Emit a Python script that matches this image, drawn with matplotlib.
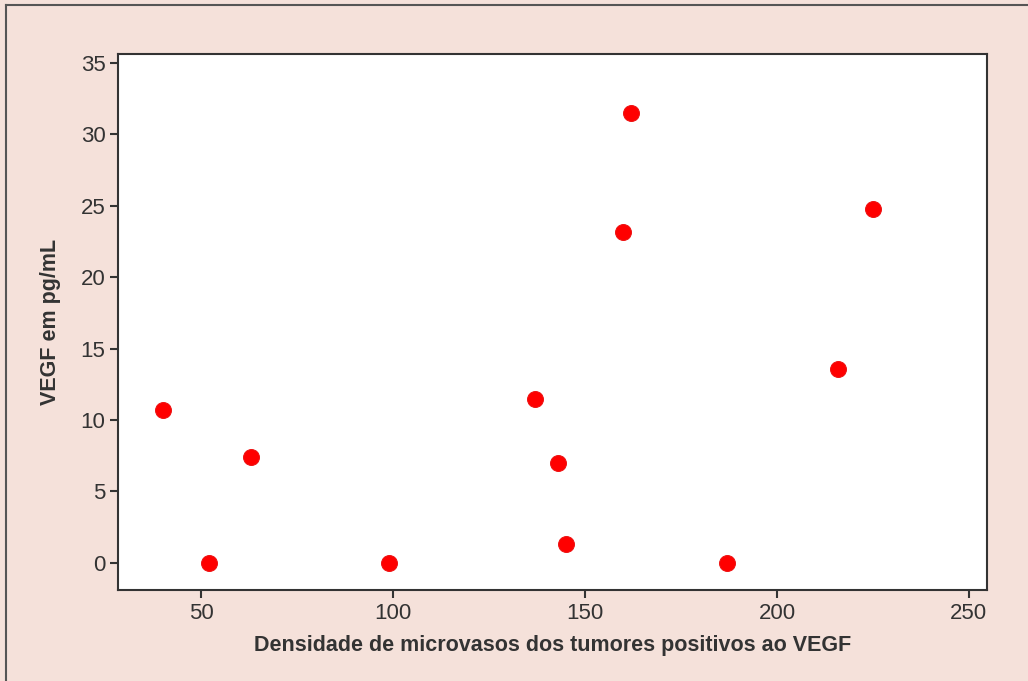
import matplotlib.pyplot as plt
from matplotlib.lines import Line2D

# microvessel density vs VEGF
densidade = [40, 52, 63, 99, 137, 143, 145, 160, 162, 187, 216, 225]
vegf = [10.7, 0, 7.4, 0, 11.5, 7.0, 1.3, 23.2, 31.5, 0, 13.6, 24.8]

x_ticks = [50, 100, 150, 200, 250]
y_ticks = [0, 5, 10, 15, 20, 25, 30, 35]

plt.rcParams['font.family'] = ['Liberation Sans', 'DejaVu Sans']

bg = '#f5e1da'
dark = '#333333'

fig = plt.figure(figsize=(10.28, 6.81), dpi=100, facecolor=bg)
ax = fig.add_axes([0.1148, 0.1336, 0.8453, 0.7871])
ax.set_facecolor('white')

ax.scatter(densidade, vegf, s=130, color='#ff0000', edgecolors='#ee1111',
           linewidths=0.8, zorder=3)

ax.set_xlim(28.4, 254.7)
ax.set_ylim(-1.9, 35.63)
ax.set_xticks(x_ticks)
ax.set_yticks(y_ticks)

ax.tick_params(axis='both', direction='out', length=6, width=1.5,
               color=dark, labelcolor=dark, labelsize=16, pad=3)
for sp in ax.spines.values():
    sp.set_color(dark)
    sp.set_linewidth(1.5)

ax.set_xlabel('Densidade de microvasos dos tumores positivos ao VEGF',
              fontsize=15.5, fontweight='bold', color=dark, labelpad=8)
ax.set_ylabel('VEGF em pg/mL', fontsize=15.5, fontweight='bold', color=dark,
              labelpad=14)

# frame border (left and top edges visible in the scan)
fig.add_artist(Line2D([0.006, 0.006], [0.0, 0.993], transform=fig.transFigure,
                      color='#555555', linewidth=1.5))
fig.add_artist(Line2D([0.006, 1.0], [0.993, 0.993], transform=fig.transFigure,
                      color='#555555', linewidth=1.5))

fig.savefig('out.png', dpi=100, facecolor=bg)
